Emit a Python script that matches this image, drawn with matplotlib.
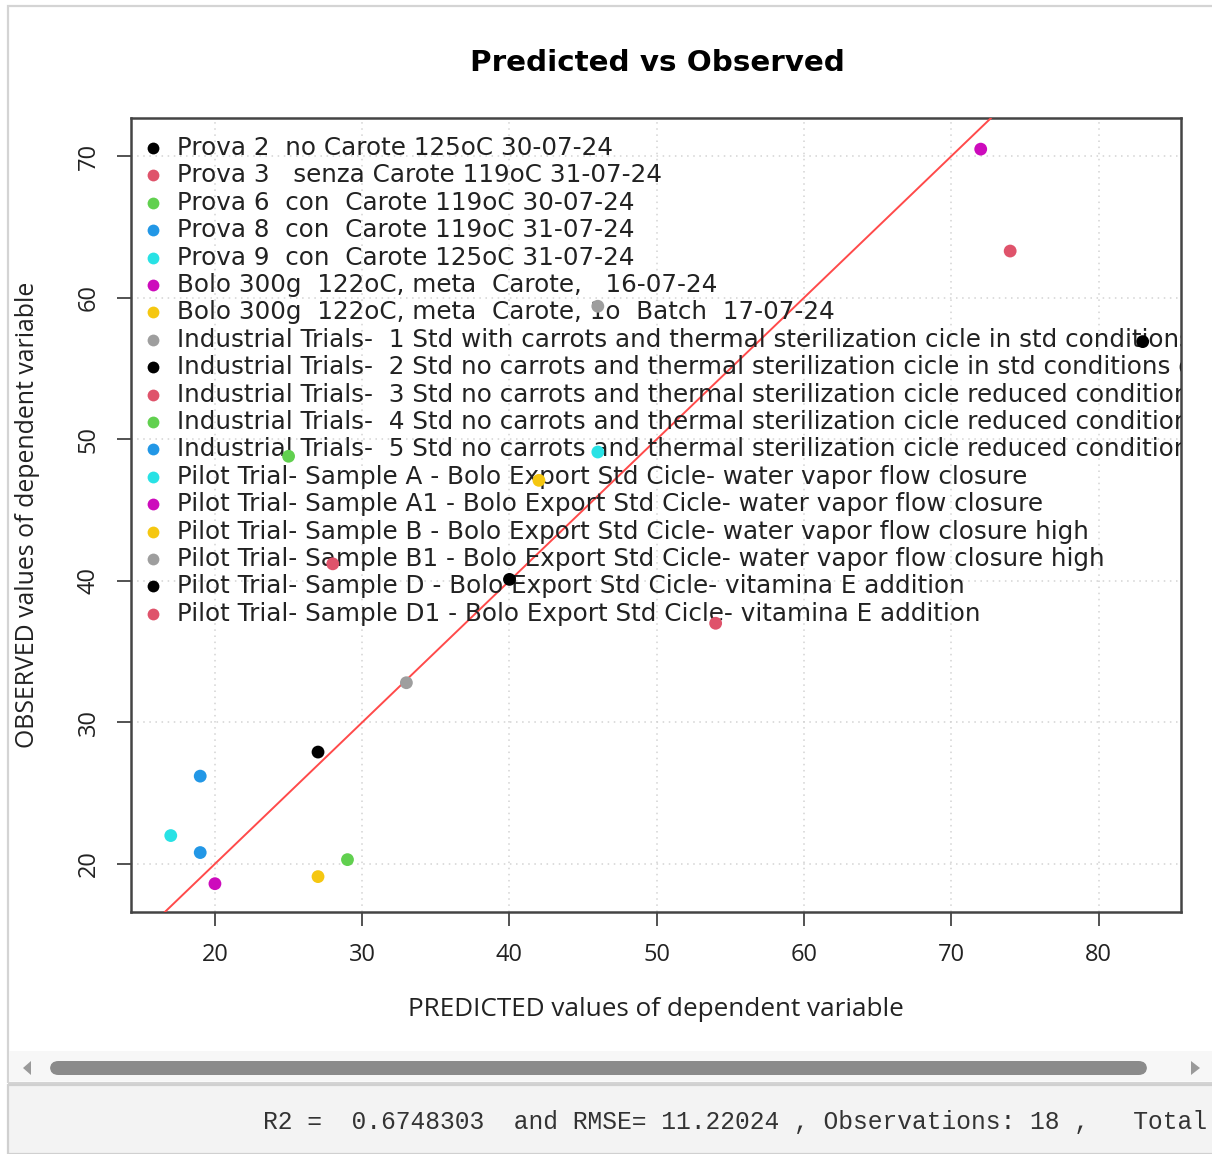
import matplotlib
matplotlib.use("Agg")
import matplotlib.pyplot as plt
from matplotlib.patches import Rectangle, FancyBboxPatch, Polygon

# series labels (one observation each), R default palette cycles over them
labels = [
    "Prova 2  no Carote 125oC 30-07-24",
    "Prova 3   senza Carote 119oC 31-07-24",
    "Prova 6  con  Carote 119oC 30-07-24",
    "Prova 8  con  Carote 119oC 31-07-24",
    "Prova 9  con  Carote 125oC 31-07-24",
    "Bolo 300g  122oC, meta  Carote,   16-07-24",
    "Bolo 300g  122oC, meta  Carote, 1o  Batch  17-07-24",
    "Industrial Trials-  1 Std with carrots and thermal sterilization cicle in std conditions",
    "Industrial Trials-  2 Std no carrots and thermal sterilization cicle in std conditions o",
    "Industrial Trials-  3 Std no carrots and thermal sterilization cicle reduced conditions",
    "Industrial Trials-  4 Std no carrots and thermal sterilization cicle reduced conditions",
    "Industrial Trials-  5 Std no carrots and thermal sterilization cicle reduced conditions",
    "Pilot Trial- Sample A - Bolo Export Std Cicle- water vapor flow closure",
    "Pilot Trial- Sample A1 - Bolo Export Std Cicle- water vapor flow closure",
    "Pilot Trial- Sample B - Bolo Export Std Cicle- water vapor flow closure high",
    "Pilot Trial- Sample B1 - Bolo Export Std Cicle- water vapor flow closure high",
    "Pilot Trial- Sample D - Bolo Export Std Cicle- vitamina E addition",
    "Pilot Trial- Sample D1 - Bolo Export Std Cicle- vitamina E addition",
]
predicted = [83, 74, 25, 19, 46, 72, 42, 46, 27, 28, 29, 19, 17, 20, 27, 33, 40, 54]
observed = [56.9, 63.3, 48.8, 26.2, 49.1, 70.5, 47.1, 59.4, 27.9, 41.2,
            20.3, 20.8, 22.0, 18.6, 19.1, 32.8, 40.1, 37.0]
palette = ["#000000", "#DF536B", "#61D04F", "#2297E6",
           "#28E2E5", "#CD0BBC", "#F5C710", "#9E9E9E"]
colors = [palette[i % len(palette)] for i in range(len(labels))]

xticks = [20, 30, 40, 50, 60, 70, 80]
yticks = [20, 30, 40, 50, 60, 70]
stats_text = "R2 =  0.6748303  and RMSE= 11.22024 , Observations: 18 ,   Total"

W, H = 1212, 1154
fig = plt.figure(figsize=(W / 100, H / 100), dpi=100)
fig.patch.set_facecolor("white")

# panel frame / scrollbar / output area of the notebook screenshot
fig.patches.append(Rectangle((8 / W, 1 - 1083 / H), 1.1, 1083 / H - 6 / H,
                             transform=fig.transFigure, fill=False,
                             edgecolor="#d4d4d4", lw=1.6, zorder=0))
fig.patches.append(Rectangle((9 / W, 1 - 1081 / H), 1.1, 30 / H,
                             transform=fig.transFigure, facecolor="#f7f7f7",
                             edgecolor="none", zorder=0))
fig.patches.append(FancyBboxPatch((50 / W, 1 - 1075 / H), 1097 / W, 14 / H,
                                  boxstyle="round,pad=0,rounding_size=0.007",
                                  transform=fig.transFigure, facecolor="#8b8b8b",
                                  edgecolor="none"))
fig.patches.append(Polygon([(31 / W, 1 - 1061 / H), (31 / W, 1 - 1075 / H), (23 / W, 1 - 1068 / H)],
                           closed=True, transform=fig.transFigure,
                           facecolor="#9a9a9a", edgecolor="none"))
fig.patches.append(Polygon([(1191 / W, 1 - 1061 / H), (1191 / W, 1 - 1075 / H), (1200 / W, 1 - 1068 / H)],
                           closed=True, transform=fig.transFigure,
                           facecolor="#9a9a9a", edgecolor="none"))
fig.patches.append(Rectangle((8 / W, 0), 1.1, 1 - 1085 / H,
                             transform=fig.transFigure, facecolor="#f3f3f3",
                             edgecolor="#d0d0d0", lw=1.6, zorder=0))
fig.text(263 / W, 1 - 1122 / H, stats_text, family="Liberation Mono",
         fontsize=17.7, color="#333333", ha="left", va="center")

ax = fig.add_axes([131 / W, 1 - 912 / H, 1050 / W, 794 / H])
ax.set_xlim(14.3, 85.6)
ax.set_ylim(16.6, 72.7)

ax.grid(True, color="#d3d3d3", linestyle=(0, (1, 3)), linewidth=1.1)
ax.set_axisbelow(True)
ax.set_xticks(xticks)
ax.set_yticks(yticks)
ax.tick_params(length=10, width=1.3, color="#444444", labelsize=17, pad=12,
               labelcolor="#222222")
for lab in ax.get_xticklabels() + ax.get_yticklabels():
    lab.set_family("Open Sans")
for lab in ax.get_yticklabels():
    lab.set_rotation(90)
    lab.set_va("center")
for s in ax.spines.values():
    s.set_color("#444444")
    s.set_linewidth(1.8)

# 1:1 reference line
ax.axline((20, 20), (70, 70), color="#ff4a4a", lw=1.4, zorder=3)

ax.scatter(predicted, observed, c=colors, s=85, edgecolors="none", zorder=5)

# legend (R style, clipped by the plot region)
for i, (lab, col) in enumerate(zip(labels, colors)):
    yy = 1 - (30 + 27.4 * i) / 794
    ax.plot([22 / 1050], [yy], "o", color=col, ms=8.5, mec="none",
            transform=ax.transAxes, zorder=4)
    ax.text(46 / 1050, yy, lab, transform=ax.transAxes, fontsize=17.75,
            family="DejaVu Sans", color="#222222", va="center", ha="left",
            clip_on=True, zorder=4)

ax.set_xlabel("PREDICTED values of dependent variable", family="Open Sans",
              fontsize=18.8, labelpad=22, color="#222222")
ax.set_ylabel("OBSERVED values of dependent variable", family="Open Sans",
              fontsize=17.9, labelpad=26, color="#222222")
fig.text(657 / W, 1 - 63 / H, "Predicted vs Observed", family="DejaVu Sans",
         fontweight="bold", fontsize=21.2, ha="center", va="center")

fig.savefig("out.png", dpi=100)
